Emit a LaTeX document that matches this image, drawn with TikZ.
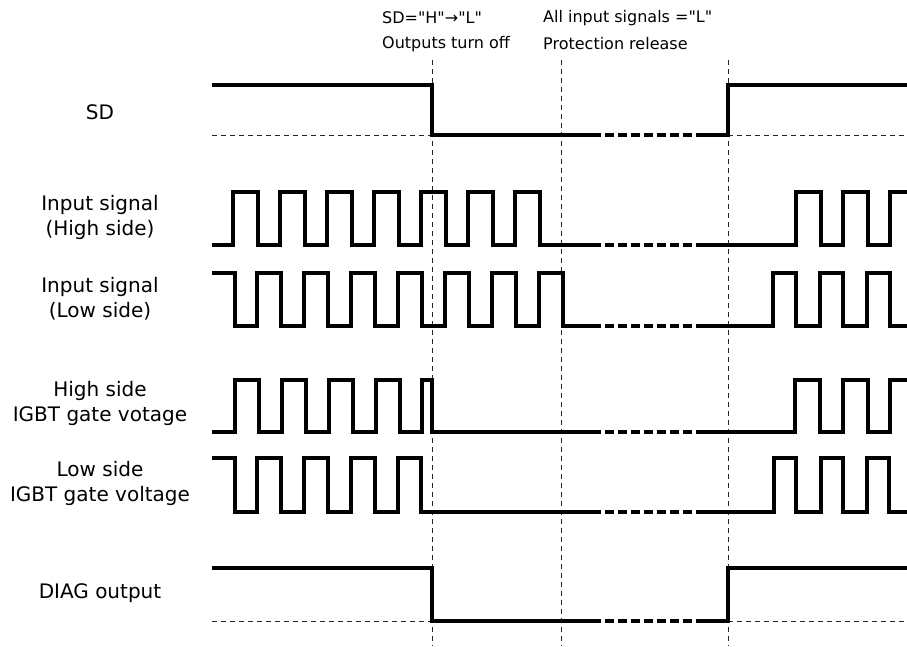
\documentclass[tikz,border=0pt]{standalone}
\usepackage{fontspec}
\usepackage{tikz}
\usetikzlibrary{positioning, calc}
\newfontfamily\lblfont{DejaVu Sans}

\begin{document}
\begin{tikzpicture}[x=1pt, y=-1pt,
    wave/.style={line width=3.2pt, line join=miter},
    wavegap/.style={line width=3.2pt, dash pattern=on 9pt off 4pt},
    guide/.style={line width=1pt, black!85, dash pattern=on 5pt off 4pt},
    sig/.style={align=center, inner sep=0pt, font=\lblfont\fontsize{20}{25}\selectfont},
    note/.style={anchor=west, inner sep=0pt, font=\lblfont\fontsize{16}{19}\selectfont}]
      \useasboundingbox (0,0) rectangle (907,646);

      \node[sig] (sd) at (100,112) {SD};
      \node[sig] (inhi) at (100,217.5) {Input signal\\(High side)};
      \node[sig] (inlo) at (100,298.5) {Input signal\\(Low side)};
      \node[sig] (ighi) at (100,403.5) {High side\\IGBT gate votage};
      \node[sig] (iglo) at (100,483.5) {Low side\\IGBT gate voltage};
      \node[sig] (diag) at (100,593) {DIAG output};

      \node[note] (off1) at (382,18) {SD="H"→"L"};
      \node[note] (off2) at (382,44) {Outputs turn off};
      \node[note] (rel1) at (543,18) {All input signals ="L"};
      \node[note] (rel2) at (543,44) {Protection release};

      \foreach \t in {432,561,728}
        \draw[guide] (\t,60) -- (\t,646);

      \draw[guide] (212,135) -- (432,135);
      \draw[guide] (728,135) -- (907,135);
      \draw[guide] (212,621) -- (432,621);
      \draw[guide] (728,621) -- (907,621);

      \draw[wave] (212,85) -- (432,85) -- (432,135) -- (592,135);
      \draw[wavegap] (592,135) -- (700,135);
      \draw[wave] (700,135) -- (728,135) -- (728,85) -- (907,85);

      \draw[wave] (212,245) foreach \x in {233,280,...,515} {
          -- (\x,245) -- (\x,192) -- (\x+25,192) -- (\x+25,245) } -- (592,245);
      \draw[wavegap] (592,245) -- (700,245);
      \draw[wave] (700,245) foreach \x in {796,843} {
          -- (\x,245) -- (\x,192) -- (\x+25,192) -- (\x+25,245) }
          -- (890,245) -- (890,192) -- (907,192);

      \draw[wave] (212,273) -- (235,273) -- (235,326) foreach \x in {257,304,...,539} {
          -- (\x,326) -- (\x,273) -- (\x+24,273) -- (\x+24,326) } -- (592,326);
      \draw[wavegap] (592,326) -- (700,326);
      \draw[wave] (700,326) foreach \x in {773,820,867} {
          -- (\x,326) -- (\x,273) -- (\x+23,273) -- (\x+23,326) } -- (907,326);

      \draw[wave] (212,432) foreach \x in {235,282,329,376} {
          -- (\x,432) -- (\x,380) -- (\x+24,380) -- (\x+24,432) }
          -- (422,432) -- (422,380) -- (432,380) -- (432,432) -- (592,432);
      \draw[wavegap] (592,432) -- (700,432);
      \draw[wave] (700,432) foreach \x in {795,843} {
          -- (\x,432) -- (\x,380) -- (\x+25,380) -- (\x+25,432) }
          -- (890,432) -- (890,380) -- (907,380);

      \draw[wave] (212,458) -- (235,458) -- (235,512) foreach \x in {257,304,351} {
          -- (\x,512) -- (\x,458) -- (\x+24,458) -- (\x+24,512) }
          -- (398,512) -- (398,458) -- (421,458) -- (421,512) -- (592,512);
      \draw[wavegap] (592,512) -- (700,512);
      \draw[wave] (700,512) foreach \x in {774,821,867} {
          -- (\x,512) -- (\x,458) -- (\x+22,458) -- (\x+22,512) } -- (907,512);

      \draw[wave] (212,568) -- (432,568) -- (432,621) -- (592,621);
      \draw[wavegap] (592,621) -- (700,621);
      \draw[wave] (700,621) -- (728,621) -- (728,568) -- (907,568);
\end{tikzpicture}
\end{document}
